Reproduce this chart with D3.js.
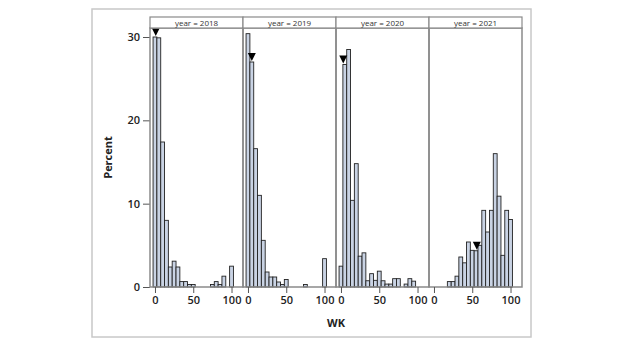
<!DOCTYPE html>
<html>
<head>
<meta charset="utf-8">
<script src="https://cdn.jsdelivr.net/npm/d3@7"></script>
<style>
  body { margin: 0; background: #fff; }
  svg text { font-family: "Open Sans", sans-serif; }
</style>
</head>
<body>
<div id="chart"></div>
<script>
// bins of width 5, centred on these midpoints
const midpoints = [0,5,10,15,20,25,30,35,40,45,50,55,60,65,70,75,80,85,90,95,100];
const years = [2018, 2019, 2020, 2021];

const pct2018 = [30.0,29.9,17.4,8.0,2.4,3.1,2.4,0.65,0.65,0.3,0.3,0,0,0,0,0.3,0.65,0.3,1.3,0,2.5];
const pct2019 = [30.4,27.0,16.6,11.0,5.6,1.8,1.2,1.2,0.6,0.3,0.9,0,0,0,0,0.3,0,0,0,0,3.4];
const pct2020 = [2.5,26.7,28.5,10.4,14.8,3.7,4.1,0.75,1.6,0.8,1.9,0.75,0.35,0.35,1.0,1.0,0,0.35,1.0,0.7,0];
const pct2021 = [0,0,0,0,0.65,0.65,1.3,3.6,2.9,5.4,4.4,4.35,5.0,9.2,6.6,9.2,16.0,10.9,3.8,9.2,8.1];
const series = [pct2018, pct2019, pct2020, pct2021];

// median markers (WK value, percent height)
const markerX = [1, 5, 3, 56];
const markerY = [30.0, 27.0, 26.7, 4.35];

const xTicks = [0, 50, 100];
const yTicks = [0, 10, 20, 30];

const W = 624, H = 352;
const svg = d3.select("#chart").append("svg")
  .attr("width", W).attr("height", H);

// outer frame
svg.append("rect")
  .attr("x", 92).attr("y", 9)
  .attr("width", 439).attr("height", 328)
  .attr("fill", "none")
  .attr("stroke", "#c8c8c8")
  .attr("stroke-width", 1.5);

const left = 150, right = 522, stripTop = 17, stripBottom = 28, bottom = 287;
const panelW = (right - left) / years.length;

const y = d3.scaleLinear().domain([0, 31.08]).range([bottom, stripBottom]);

// y axis
const yAxis = svg.append("g")
  .attr("transform", `translate(${left},0)`)
  .call(d3.axisLeft(y).tickValues(yTicks).tickSize(7).tickPadding(3));
yAxis.select(".domain").remove();
yAxis.selectAll(".tick line").attr("stroke", "#555");
yAxis.selectAll("text")
  .style("font-size", "11px").style("font-weight", "600").attr("fill", "#222");

svg.append("text")
  .attr("transform", `translate(112,${(bottom + stripBottom) / 2}) rotate(-90)`)
  .attr("text-anchor", "middle")
  .style("font-size", "11px").style("font-weight", "700").attr("fill", "#222")
  .text("Percent");

years.forEach((yr, i) => {
  const x0 = left + i * panelW;
  const x = d3.scaleLinear().domain([-6.5, 115]).range([x0, x0 + panelW]);
  const g = svg.append("g");

  // bars
  g.selectAll("rect.bar")
    .data(midpoints.map((m, j) => ({ m, v: series[i][j] })).filter(d => d.v > 0))
    .join("rect")
      .attr("class", "bar")
      .attr("x", d => x(d.m - 2.5))
      .attr("width", d => x(d.m + 2.5) - x(d.m - 2.5))
      .attr("y", d => y(d.v))
      .attr("height", d => y(0) - y(d.v))
      .attr("fill", "#c9d3e4")
      .attr("stroke", "#222")
      .attr("stroke-width", 0.9);

  // median marker
  const mx = x(markerX[i]), my = y(markerY[i]) - 1;
  g.append("path")
    .attr("d", `M${mx - 4},${my - 8}L${mx + 4},${my - 8}L${mx},${my}Z`)
    .attr("fill", "#000");

  // panel box
  g.append("rect")
    .attr("x", x0).attr("y", stripBottom)
    .attr("width", panelW).attr("height", bottom - stripBottom)
    .attr("fill", "none").attr("stroke", "#8a8a8a").attr("stroke-width", 1.5);

  // strip
  g.append("rect")
    .attr("x", x0).attr("y", stripTop)
    .attr("width", panelW).attr("height", stripBottom - stripTop)
    .attr("fill", "#fff").attr("stroke", "#8a8a8a").attr("stroke-width", 1.2);
  g.append("text")
    .attr("x", x0 + panelW / 2).attr("y", stripBottom - 2.5)
    .attr("text-anchor", "middle")
    .style("font-size", "8px").attr("fill", "#333")
    .text(`year = ${yr}`);

  // x axis
  const xa = svg.append("g")
    .attr("transform", `translate(0,${bottom})`)
    .call(d3.axisBottom(x).tickValues(xTicks).tickSize(6).tickPadding(3));
  xa.select(".domain").remove();
  xa.selectAll(".tick line").attr("stroke", "#555");
  xa.selectAll("text")
    .style("font-size", "11px").style("font-weight", "600").attr("fill", "#222");
});

svg.append("text")
  .attr("x", (left + right) / 2).attr("y", 327)
  .attr("text-anchor", "middle")
  .style("font-size", "11px").style("font-weight", "700").attr("fill", "#222")
  .text("WK");
</script>
</body>
</html>
